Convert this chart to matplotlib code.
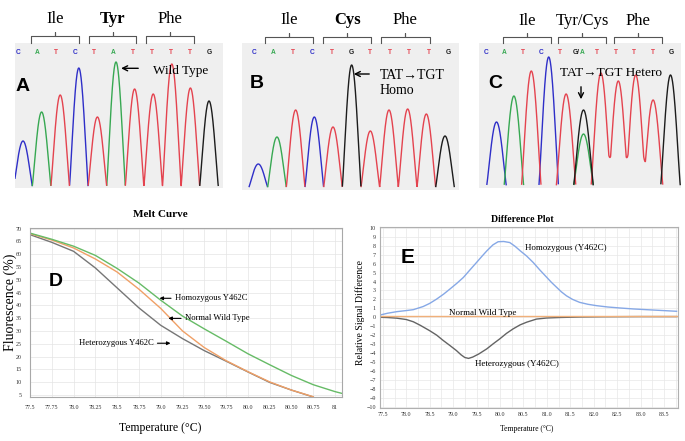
import matplotlib
matplotlib.use('Agg')
import matplotlib.pyplot as plt
import numpy as np

# ---------------- data ----------------
# Sanger chromatograms (base calls and peak heights, arbitrary units)
bases_A = ["C", "A", "T", "C", "T", "A", "T", "T", "T", "T", "G"]
heights_A = [45, 74, 91, 118, 69, 124, 97, 92, 122, 98, 85]
bases_B = ["C", "A", "T", "C", "T", "G", "T", "T", "T", "T", "G"]
heights_B = [23, 50, 77, 70, 60, 122, 56, 77, 78, 73, 51]
bases_C = ["C", "A", "T", "C", "T", "G", "T", "T", "T", "T", "G"]
heights_C = [63, 89, 114, 128, 91, 75, 112, 104, 110, 85, 110]
labels_C = ["C", "A", "T", "C", "T", "G/A", "T", "T", "T", "T", "G"]
second_C = [(5, "A", 51)]          # heterozygous secondary peak

codons_A = [("Ile", 1, False), ("Tyr", 4, True), ("Phe", 7, False)]
codons_B = [("Ile", 1, False), ("Cys", 4, True), ("Phe", 7, False)]
codons_C = [("Ile", 1, False), ("Tyr/Cys", 4, False), ("Phe", 7, False)]

# Melt curve (D)
temp_D = [77.5, 77.75, 78.0, 78.25, 78.5, 78.75, 79.0, 79.25, 79.5, 79.75,
          80.0, 80.25, 80.5, 80.75, 81.0, 81.08]
het_D = [67.6, 64.6, 61.1, 54.6, 46.8, 39.0, 32.2, 27.0, 22.3, 18.2,
         14.0, 9.9, 6.9, 4.2, None, None]
wt_D = [68.0, 65.5, 62.4, 58.1, 53.0, 46.3, 38.8, 30.0, 23.5, 18.4,
        14.1, 10.1, 6.9, 4.3, None, None]
homo_D = [68.2, 65.8, 63.1, 59.5, 54.4, 48.7, 42.0, 35.8, 30.8, 26.0,
          21.1, 16.8, 12.6, 9.0, 6.3, 5.6]
xtick_D = [77.5, 77.75, 78.0, 78.25, 78.5, 78.75, 79.0, 79.25, 79.5, 79.75,
           80.0, 80.25, 80.5, 80.75, 81.0]
xticklab_D = ["77.5", "77.75", "78.0", "78.25", "78.5", "78.75", "79.0", "79.25",
              "79.50", "79.75", "80.0", "80.25", "80.50", "80.75", "81"]
ytick_D = list(range(5, 75, 5))

# Difference plot (E)
temp_E_homo = [77.44, 77.6, 77.8, 78.0, 78.15, 78.36, 78.5, 78.65, 78.8, 78.93,
               79.08, 79.22, 79.36, 79.5, 79.62, 79.72, 79.85, 79.96, 80.08, 80.21,
               80.32, 80.43, 80.57, 80.71, 80.85, 81.0, 81.1, 81.21, 81.31, 81.42,
               81.55, 81.7, 81.88, 82.06, 82.3, 82.56, 82.85, 83.13, 83.45, 83.77]
homo_E = [0.25, 0.45, 0.63, 0.75, 0.85, 1.2, 1.55, 2.04, 2.6, 3.15,
          3.8, 4.46, 5.3, 6.13, 6.85, 7.43, 8.1, 8.45, 8.48, 8.36,
          7.95, 7.45, 6.85, 6.13, 5.3, 4.46, 3.9, 3.35, 2.85, 2.4,
          2.0, 1.67, 1.45, 1.3, 1.15, 1.04, 0.93, 0.85, 0.76, 0.67]
temp_E_het = [77.44, 77.6, 77.8, 78.0, 78.15, 78.3, 78.5, 78.65, 78.79, 78.93,
              79.07, 79.17, 79.25, 79.33, 79.42, 79.55, 79.72, 79.86, 80.0, 80.14,
              80.28, 80.43, 80.57, 80.78, 81.0, 81.3, 81.7, 82.2, 83.0, 83.77]
het_E = [0.0, -0.03, -0.1, -0.25, -0.5, -0.9, -1.5, -2.0, -2.6, -3.15,
         -3.72, -4.2, -4.5, -4.6, -4.45, -4.1, -3.53, -2.95, -2.4, -1.8,
         -1.3, -0.85, -0.55, -0.2, -0.08, -0.02, 0.03, 0.06, 0.08, 0.08]
temp_E_wt = [77.44, 83.77]
wt_E = [0.12, 0.12]
xtick_E = [77.5, 78.0, 78.5, 79.0, 79.5, 80.0, 80.5, 81.0, 81.5, 82.0, 82.5, 83.0, 83.5]
ytick_E = list(range(-10, 11))

# ---------------- figure ----------------
W, H = 685, 441
fig = plt.figure(figsize=(W / 100, H / 100), dpi=100)
SERIF = ['Liberation Serif', 'DejaVu Serif']
SANS = ['Liberation Sans', 'DejaVu Sans']
CH = {"A": "#37a852", "C": "#2f2fc8", "G": "#1c1c1c", "T": "#e4434f"}


def add_ax(l, t, r, b):
    return fig.add_axes([l / W, 1 - b / H, (r - l) / W, (b - t) / H])


def ftext(px, py, s, **kw):
    return fig.text(px / W, 1 - py / H, s, **kw)


def chrom_panel(box, base_px, p0, dp, l0, dl, bases, heights, labels, half_w,
                codons, brk, ys, extra=None):
    l, t, r, b = box
    ax = add_ax(l, t, r, b)
    ax.set_xlim((l - p0) / dp, (r - p0) / dp)
    ax.set_ylim(base_px - b, base_px - t)
    ax.set_facecolor('#efefef')
    for s in ax.spines.values():
        s.set_visible(False)
    ax.set_xticks([])
    ax.set_yticks([])
    yp = lambda py: base_px - py
    x = np.linspace(*ax.get_xlim(), 2000)
    peaks = [(i, bb, h) for i, (bb, h) in enumerate(zip(bases, heights))] + (extra or [])
    for ch in ["C", "A", "T", "G"]:
        y = np.zeros_like(x)
        for i, bb, h in peaks:
            if bb == ch:
                d = np.abs(x - i) / half_w
                y += np.where(d < 1, h * np.cos(np.pi * np.minimum(d, 1) / 2) ** 1.15, 0.0)
        y[y < 0.3] = np.nan
        ax.plot(x, y, color=CH[ch], lw=1.0)
    # base call letters
    lx = lambda i: (l0 + dl * i - p0) / dp
    y_let, y_end, y_bar, y_tip, y_lab = ys
    for i, lab in enumerate(labels):
        if lab == "G/A":
            ax.text(lx(i) + 0.1, yp(y_let), "G/", color=CH["G"], fontsize=4.8,
                    fontweight='bold', family=SANS, ha='right', va='center')
            ax.text(lx(i) + 0.1, yp(y_let), "A", color=CH["A"], fontsize=4.8,
                    fontweight='bold', family=SANS, ha='left', va='center')
        else:
            ax.text(lx(i), yp(y_let), lab, color=CH[lab], fontsize=4.8,
                    fontweight='bold', family=SANS, ha='center', va='center')
    # codon brackets
    for name, s, bold in codons:
        x0, x1 = lx(s + brk[0]), lx(s + brk[1])
        xm = (x0 + x1) / 2
        ax.plot([x0, x0, xm, xm, xm, x1, x1],
                [yp(y_end), yp(y_bar), yp(y_bar), yp(y_tip), yp(y_bar), yp(y_bar), yp(y_end)],
                color='#555555', lw=0.8, clip_on=False, solid_joinstyle='round')
        ax.text(xm, yp(y_lab), name, fontsize=12, family=SERIF,
                fontweight='bold' if bold else 'normal', ha='center', va='center',
                clip_on=False)
    return ax, (lambda px: (px - p0) / dp), yp


# ---- A ----
axA, xA, yA = chrom_panel((15, 43, 223, 188), 186, 23, 18.6, 18, 19.1,
                          bases_A, heights_A, bases_A, 0.5, codons_A, (-0.3, 2.2),
                          (53, 43, 36, 32, 19))
axA.annotate("", xy=(xA(118.3), yA(68.3)), xytext=(xA(141), yA(68.3)),
             arrowprops=dict(arrowstyle='->', lw=1.0, color='black', mutation_scale=9))
axA.text(xA(153), yA(71), "Wild Type", fontsize=9.5, family=SERIF, va='center', ha='left')
ftext(22.5, 86, "A", fontsize=14, fontweight='bold', family=SANS, ha='center', va='center')

# ---- B ----
axB, xB, yB = chrom_panel((242, 43, 459, 190), 187, 258.3, 18.67, 254, 19.4,
                          bases_B, heights_B, bases_B, 0.5, codons_B, (-0.45, 2.05),
                          (52.7, 43.3, 36.7, 33, 20))
axB.annotate("", xy=(xB(351), yB(74)), xytext=(xB(372), yB(74)),
             arrowprops=dict(arrowstyle='->', lw=1.0, color='black', mutation_scale=9))
axB.text(xB(380), yB(83), "TAT\u2192TGT\nHomo", fontsize=10, family=SERIF,
         va='center', ha='left', linespacing=1.15)
ftext(257, 84, "B", fontsize=14, fontweight='bold', family=SANS, ha='center', va='center')

# ---- C ----
axC, xC, yC = chrom_panel((479, 43, 681, 188), 185, 496.5, 17.4, 486, 18.5,
                          bases_C, heights_C, labels_C, 0.56, codons_C, (-0.1, 2.5),
                          (52.5, 43.3, 37.3, 33.3, 20.7), extra=second_C)
axC.text(xC(560), yC(72.7), "TAT\u2192TGT Hetero", fontsize=9.6, family=SERIF,
         va='center', ha='left')
axC.annotate("", xy=(xC(581), yC(102)), xytext=(xC(581), yC(84)),
             arrowprops=dict(arrowstyle='->', lw=1.0, color='black', mutation_scale=9))
ftext(495, 84, "C", fontsize=14, fontweight='bold', family=SANS, ha='center', va='center')

# ---- D: melt curve ----
axD = add_ax(30, 228, 342, 397)


def clean(t, v):
    pts = [(a, b) for a, b in zip(t, v) if b is not None]
    return [p[0] for p in pts], [p[1] for p in pts]


axD.plot(*clean(temp_D, het_D), color='#767676', lw=1.0)
axD.plot(*clean(temp_D, wt_D), color='#f0a066', lw=1.0)
axD.plot(*clean(temp_D, homo_D), color='#66bb66', lw=1.0)
axD.set_xlim(77.5, 81.08)
axD.set_ylim(4.2, 70.2)
axD.set_xticks(xtick_D)
axD.set_xticklabels(xticklab_D)
axD.set_yticks(ytick_D)
axD.grid(True, color='#e4e4e4', lw=0.5)
axD.tick_params(length=0, labelsize=4.3, pad=6, colors='#333333')
for lab in axD.get_xticklabels() + axD.get_yticklabels():
    lab.set_family(SERIF)
for s in axD.spines.values():
    s.set_color('#a8a8a8')
    s.set_linewidth(0.8)
ap = dict(arrowstyle='-|>', lw=0.8, color='black', mutation_scale=5)
axD.annotate("", xy=(78.954, 42.75), xytext=(79.15, 42.75), arrowprops=ap)
axD.text(79.16, 42.75, "Homozygous Y462C", fontsize=6.2, family=SERIF, va='center', ha='left')
axD.annotate("", xy=(79.056, 34.9), xytext=(79.265, 34.9), arrowprops=ap)
axD.text(79.28, 34.9, "Normal Wild Type", fontsize=6.2, family=SERIF, va='center', ha='left')
axD.annotate("", xy=(79.144, 25.2), xytext=(78.93, 25.2), arrowprops=ap)
axD.text(78.915, 25.2, "Heterozygous Y462C", fontsize=6.2, family=SERIF, va='center', ha='right')
ftext(160, 215, "Melt Curve", fontsize=8, fontweight='bold', family=SERIF, ha='center', va='center')
ftext(10, 302, "Fluorescence (%)", fontsize=10, family=SERIF, rotation=90, ha='center', va='center')
ftext(160, 428, "Temperature (\u00b0C)", fontsize=8.5, family=SERIF, ha='center', va='center')
ftext(56, 281, "D", fontsize=14, fontweight='bold', family=SANS, ha='center', va='center')

# ---- E: difference plot ----
axE = add_ax(380, 227, 678, 408)
axE.plot(temp_E_het, het_E, color='#646464', lw=1.0)
axE.plot(temp_E_wt, wt_E, color='#f0b07a', lw=1.0)
axE.plot(temp_E_homo, homo_E, color='#86a8e6', lw=1.0)
axE.set_xlim(77.44, 83.8)
axE.set_ylim(-10.15, 10.1)
axE.set_xticks(xtick_E)
axE.set_xticklabels([f"{v:.1f}" for v in xtick_E])
axE.set_yticks(ytick_E)
axE.set_xticks(np.arange(77.5, 83.8, 0.25), minor=True)
axE.grid(True, which='both', color='#e8e8e8', lw=0.5)
axE.tick_params(which='both', length=0, labelsize=4.3, pad=3, colors='#333333')
for lab in axE.get_xticklabels() + axE.get_yticklabels():
    lab.set_family(SERIF)
for s in axE.spines.values():
    s.set_color('#b0b0b0')
    s.set_linewidth(0.8)
axE.text(80.53, 7.7, "Homozygous (Y462C)", fontsize=6.5, family=SERIF, va='center', ha='left')
axE.text(79.64, 0.5, "Normal Wild Type", fontsize=6.5, family=SERIF, va='center', ha='center')
axE.text(79.47, -5.2, "Heterozygous (Y462C)", fontsize=6.5, family=SERIF, va='center', ha='left')
ftext(522.5, 219, "Difference Plot", fontsize=7, fontweight='bold', family=SERIF, ha='center', va='center')
ftext(360, 312.5, "Relative Signal Difference", fontsize=7, family=SERIF, rotation=90,
      ha='center', va='center')
ftext(526.7, 429, "Temperature (\u00b0C)", fontsize=5.5, family=SERIF, ha='center', va='center')
ftext(408, 257.5, "E", fontsize=15, fontweight='bold', family=SANS, ha='center', va='center')

fig.savefig("out.png", dpi=100)
